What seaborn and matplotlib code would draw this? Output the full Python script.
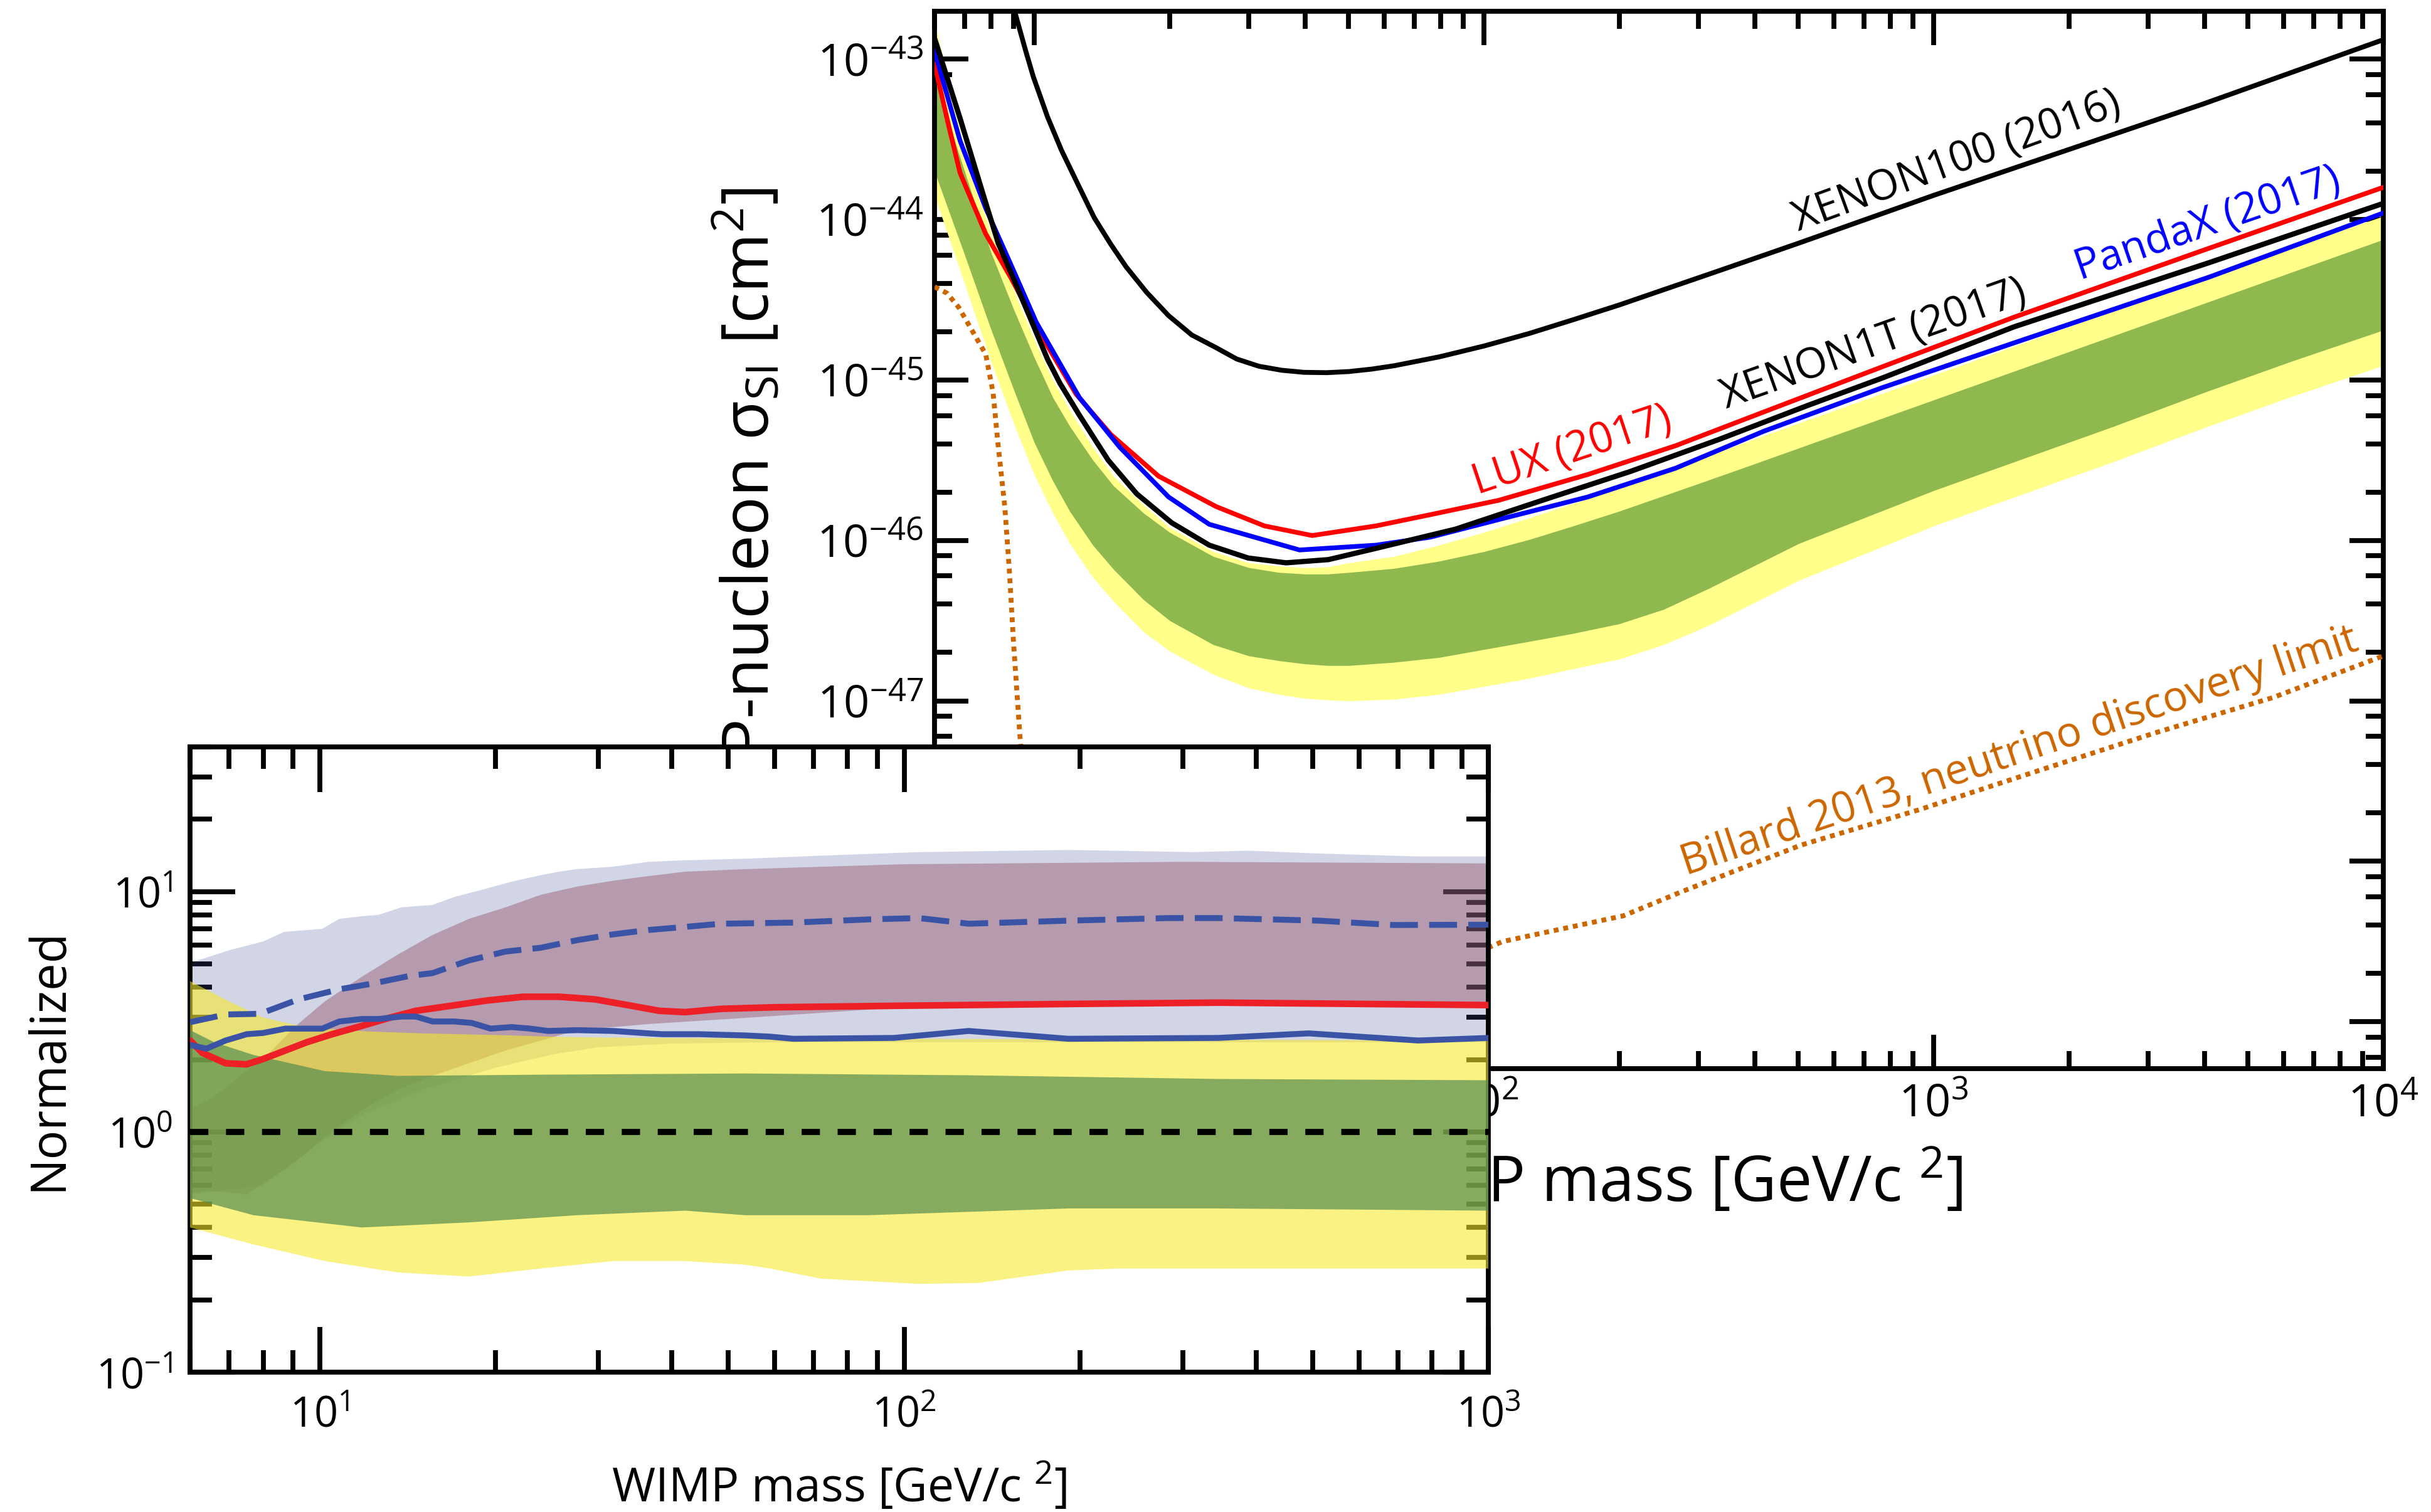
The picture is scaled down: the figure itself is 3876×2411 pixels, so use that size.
import numpy as np
import matplotlib
matplotlib.use("Agg")
import matplotlib.pyplot as plt
import seaborn as sns
from matplotlib.ticker import LogLocator, NullFormatter

# ---------------- main panel: SI WIMP-nucleon limits ----------------
# masses in GeV/c^2, cross sections given as log10(sigma / cm^2)
xe1t_mass = [6.0, 6.84, 7.67, 8.32, 9.06, 9.95, 10.7, 11.4, 12.6, 14.6, 16.9, 20.2, 24.5,
             29.9, 36.3, 45.1, 57.5, 86.5, 135, 212, 334, 524, 766, 1507, 4093, 10000]
xe1t_log = [-42.87, -43.37, -43.83, -44.15, -44.39, -44.66, -44.87, -45.02, -45.22, -45.50,
            -45.71, -45.89, -46.03, -46.11, -46.14, -46.12, -46.05, -45.93, -45.75, -45.57,
            -45.37, -45.16, -44.99, -44.67, -44.27, -43.90]

xe100_mass = [8.51, 9.06, 9.55, 9.95, 10.7, 11.5, 12.6, 13.6, 14.8, 16.0, 17.8, 19.9, 22.4,
              25.4, 28.2, 31.6, 35.5, 39.8, 44.7, 50.1, 56.2, 63.1, 79.4, 100, 126, 158, 200,
              251, 316, 398, 501, 1000, 1585, 2512, 3981, 6310, 10000]
xe100_log = [-42.43, -42.71, -42.94, -43.11, -43.36, -43.57, -43.80, -43.99, -44.155, -44.295,
             -44.456, -44.60, -44.72, -44.80, -44.87, -44.915, -44.94, -44.953, -44.955,
             -44.948, -44.933, -44.912, -44.857, -44.789, -44.711, -44.625, -44.533, -44.438,
             -44.342, -44.245, -44.148, -43.85, -43.66, -43.47, -43.28, -43.08, -42.88]

lux_mass = [6.0, 6.42, 6.84, 7.8, 8.9, 10.3, 12.4, 14.8, 18.9, 25.4, 32.5, 41.5, 57.5, 76,
            108, 170, 267, 419, 766, 1507, 4093, 10000]
lux_log = [-43.03, -43.39, -43.71, -44.09, -44.37, -44.71, -45.09, -45.34, -45.60, -45.79,
           -45.91, -45.97, -45.91, -45.84, -45.75, -45.59, -45.41, -45.20, -44.92, -44.61,
           -44.18, -43.80]

pandax_mass = [6.0, 6.84, 7.8, 8.9, 10.1, 12.6, 15.5, 19.9, 24.5, 38.9, 57.5, 76, 108, 170,
               267, 419, 766, 1507, 4093, 10000]
pandax_log = [-42.95, -43.51, -43.93, -44.29, -44.64, -45.11, -45.42, -45.73, -45.90, -46.06,
              -46.03, -45.98, -45.87, -45.73, -45.55, -45.32, -45.05, -44.77, -44.36, -43.96]

billard_mass = [6.0, 6.4, 6.8, 7.3, 7.8, 8.1, 8.3, 8.6, 8.8, 9.0, 9.3, 9.6, 10, 11, 12, 15, 20,
                30, 50, 70, 100, 110, 204, 275, 506, 925, 1690, 3105, 5675, 10000]
billard_log = [-44.42, -44.46, -44.55, -44.70, -44.84, -45.08, -45.39, -45.79, -46.18, -46.65,
               -47.23, -47.70, -48.10, -48.60, -48.85, -49.05, -49.10, -49.00, -48.85, -48.70,
               -48.55, -48.50, -48.34, -48.19, -47.90, -47.68, -47.44, -47.20, -46.98, -46.72]

# expected sensitivity bands (1 sigma green, 2 sigma yellow)
band_mass = [6, 7, 8, 9, 10, 11, 12, 13.5, 15, 17.5, 20, 25, 30, 35, 40, 45, 50.1, 63.1, 79.4,
             100, 126, 158, 200, 251, 316, 398, 501, 1000, 1585, 2512, 3981, 6310, 10000]
band_2s_hi = [-42.77, -43.55, -44.08, -44.44, -44.75, -45.00, -45.19, -45.42, -45.60, -45.78,
              -45.92, -46.07, -46.14, -46.16, -46.17, -46.165, -46.14, -46.10, -46.03, -45.95,
              -45.86, -45.77, -45.67, -45.57, -45.47, -45.37, -45.27, -44.97, -44.77, -44.57,
              -44.37, -44.17, -43.98]
band_1s_hi = [-43.12, -43.70, -44.20, -44.56, -44.86, -45.11, -45.29, -45.50, -45.66, -45.83,
              -45.95, -46.10, -46.17, -46.20, -46.21, -46.21, -46.20, -46.175, -46.13, -46.07,
              -45.995, -45.91, -45.818, -45.722, -45.624, -45.525, -45.425, -45.125, -44.925,
              -44.725, -44.525, -44.325, -44.125]
band_1s_lo = [-43.70, -44.22, -44.68, -45.06, -45.39, -45.63, -45.82, -46.03, -46.18, -46.37,
              -46.50, -46.65, -46.72, -46.75, -46.77, -46.78, -46.78, -46.76, -46.73, -46.68,
              -46.63, -46.58, -46.52, -46.43, -46.30, -46.16, -46.02, -45.69, -45.49, -45.29,
              -45.08, -44.88, -44.69]
band_2s_lo = [-43.85, -44.40, -44.88, -45.27, -45.59, -45.83, -46.02, -46.23, -46.38, -46.57,
              -46.69, -46.835, -46.92, -46.96, -46.985, -46.995, -47.00, -46.99, -46.96, -46.91,
              -46.86, -46.80, -46.74, -46.65, -46.53, -46.39, -46.25, -45.91, -45.71, -45.51,
              -45.30, -45.10, -44.91]

# curve labels: text, mass, log10 sigma, angle, colour
curve_labels = [
    ("XENON100 (2016)", 1125, -43.64, 20.0, "black"),
    ("XENON1T (2017)", 736, -44.78, 19.5, "black"),
    ("LUX (2017)", 157, -45.445, 18.5, "#ff0000"),
    ("PandaX (2017)", 4065, -44.03, 19.0, "#0000ff"),
    ("Billard 2013, neutrino discovery limit", 1552, -47.32, 18.5, "#cc6600"),
]

# ---------------- inset: limits normalised to the median sensitivity ----------------
lav_hi_mass = [6.0, 7.0, 8.0, 8.7, 10.1, 10.8, 11.8, 12.6, 13.8, 15.6, 17.0, 19.3, 21.3, 23.9,
               25.7, 27.5, 31.8, 36.5, 42.2, 53.4, 71.6, 106, 191, 313, 389, 512, 758, 1000]
lav_hi = [5.05, 5.7, 6.2, 6.8, 7.0, 7.7, 7.9, 8.0, 8.6, 8.8, 9.5, 10.3, 11.0, 11.7, 12.1, 12.4,
          12.7, 13.3, 13.5, 13.7, 14.1, 14.6, 14.9, 14.6, 14.8, 14.4, 14.0, 14.0]
lav_lo_mass = [6.0, 8.0, 10.0, 12.0, 15.0, 20.0, 25.0, 30.0, 40.0, 60.0, 1000]
lav_lo = [0.55, 0.60, 0.90, 1.20, 1.50, 1.85, 2.10, 2.25, 2.33, 2.36, 2.36]

mauve_hi_mass = [6.0, 6.6, 7.5, 8.2, 9.1, 10.2, 11.8, 13.6, 15.6, 18.0, 20.8, 23.9, 27.6, 31.8,
                 36.5, 42.2, 53.4, 100, 300, 1000]
mauve_hi = [1.25, 1.40, 1.80, 2.13, 2.76, 3.49, 4.42, 5.47, 6.6, 7.7, 8.6, 9.7, 10.5, 11.1,
            11.6, 12.1, 12.4, 13.0, 13.3, 13.1]
mauve_lo_mass = [6.0, 6.4, 7.5, 8.0, 8.9, 10.2, 11.8, 13.6, 15.6, 18.0, 20.8, 23.9, 27.6, 36.5,
                 53.4, 100, 300, 1000]
mauve_lo = [0.55, 0.57, 0.55, 0.61, 0.72, 0.95, 1.23, 1.50, 1.71, 1.93, 2.18, 2.40, 2.65, 2.81,
            2.98, 3.30, 3.40, 3.35]

yellow_hi_mass = [6.0, 7.0, 8.0, 9.0, 10.0, 12.0, 15.0, 20.0, 25.0, 30.0, 50.0, 100, 300, 1000]
yellow_hi = [4.24, 3.49, 2.99, 2.80, 2.70, 2.62, 2.57, 2.53, 2.49, 2.47, 2.45, 2.44, 2.42, 2.40]
yellow_lo_mass = [6.0, 7.7, 10.2, 13.6, 18.0, 23.9, 31.8, 42.2, 53.4, 59, 72, 106, 134, 191,
                  233, 421, 1000]
yellow_lo = [0.40, 0.34, 0.29, 0.26, 0.25, 0.27, 0.29, 0.29, 0.28, 0.27, 0.245, 0.233, 0.235,
             0.265, 0.27, 0.27, 0.27]
green_hi_mass = [6.0, 6.6, 7.7, 10.2, 13.6, 24, 53.4, 129, 345, 1000]
green_hi = [2.65, 2.36, 2.09, 1.79, 1.71, 1.73, 1.75, 1.72, 1.66, 1.64]
green_lo_mass = [6.0, 7.7, 11.8, 18.0, 27.6, 42.2, 53.4, 87, 191, 345, 1000]
green_lo = [0.53, 0.45, 0.40, 0.42, 0.45, 0.47, 0.45, 0.45, 0.48, 0.48, 0.47]

red_mass = [6.0, 6.3, 6.9, 7.5, 8.0, 8.9, 9.5, 10.5, 11.8, 13.2, 14.6, 16.8, 19.3, 22.3, 25.7,
            29.6, 34.1, 38.1, 42.2, 48.5, 60, 100, 200, 345, 1000]
red_norm = [2.40, 2.13, 1.93, 1.91, 2.01, 2.22, 2.36, 2.55, 2.76, 2.99, 3.19, 3.35, 3.52, 3.65,
            3.65, 3.56, 3.35, 3.19, 3.15, 3.25, 3.30, 3.35, 3.41, 3.45, 3.37]

blue_mass = [6.0, 6.4, 6.9, 7.5, 8.0, 8.74, 10.1, 10.8, 11.8, 12.6, 13.8, 14.6, 15.6, 17.0,
             18.2, 19.6, 21.3, 22.9, 24.6, 27.6, 31.8, 36.5, 38.5, 44.5, 53.4, 59, 64.6, 96,
             129, 191, 345, 492, 758, 1000]
blue_norm = [2.30, 2.22, 2.40, 2.55, 2.58, 2.69, 2.69, 2.88, 2.95, 2.95, 3.02, 3.02, 2.88, 2.88,
             2.84, 2.69, 2.73, 2.69, 2.63, 2.65, 2.63, 2.57, 2.55, 2.55, 2.52, 2.49, 2.44, 2.46,
             2.63, 2.44, 2.46, 2.57, 2.40, 2.46]

bdash_mass = [6.0, 6.9, 7.9, 9.2, 10.8, 12.3, 14.2, 15.6, 18.0, 20.8, 23.9, 27.6, 31.8, 36.5,
              42.2, 48.5, 64.6, 87, 106, 129, 191, 283, 345, 512, 687, 1000]
bdash_norm = [2.86, 3.08, 3.10, 3.56, 3.92, 4.14, 4.45, 4.58, 5.17, 5.63, 5.84, 6.28, 6.64, 6.92,
              7.13, 7.35, 7.43, 7.66, 7.76, 7.35, 7.57, 7.76, 7.76, 7.57, 7.26, 7.28]

# ---------------- style ----------------
sns.set_theme(style="ticks")
FONT = ["Open Sans", "DejaVu Sans"]
plt.rcParams["font.family"] = FONT
plt.rcParams["mathtext.fontset"] = "custom"
plt.rcParams["mathtext.rm"] = "Open Sans"
plt.rcParams["mathtext.it"] = "Open Sans:italic"
plt.rcParams["mathtext.bf"] = "Open Sans:bold"
plt.rcParams["axes.unicode_minus"] = True


def sig(vals):
    return 10.0 ** np.asarray(vals, dtype=float)


def style_axes(ax, major, minor, lw, size, padx, pady, ysubs):
    for s in ax.spines.values():
        s.set_linewidth(lw)
        s.set_color("black")
    ax.xaxis.set_major_locator(LogLocator(base=10, numticks=20))
    ax.xaxis.set_minor_locator(LogLocator(base=10, subs=np.arange(2, 10), numticks=50))
    ax.yaxis.set_major_locator(LogLocator(base=10, numticks=20))
    ax.yaxis.set_minor_locator(LogLocator(base=10, subs=ysubs, numticks=50))
    ax.xaxis.set_minor_formatter(NullFormatter())
    ax.yaxis.set_minor_formatter(NullFormatter())
    ax.tick_params(which="both", direction="in", top=True, right=True, width=lw,
                   color="black", labelcolor="black", labelsize=size)
    ax.tick_params(which="major", length=major)
    ax.tick_params(which="minor", length=minor)
    ax.tick_params(axis="x", which="both", pad=padx)
    ax.tick_params(axis="y", which="both", pad=pady)
    ax.xaxis.get_offset_text().set_visible(False)
    ax.yaxis.get_offset_text().set_visible(False)


def curve(axis, x, y, color, width, style="-", z=4):
    sns.lineplot(x=x, y=y, ax=axis, color=color, estimator=None, sort=False, zorder=z)
    line = axis.get_lines()[-1]
    line.set_linewidth(width)
    line.set_linestyle(style)
    line.set_solid_joinstyle("round")
    return line


fig = plt.figure(figsize=(19.38, 12.055), dpi=200)
fig.patch.set_facecolor("white")

# ---------------- main axes ----------------
ax = fig.add_axes([0.3844, 0.2932, 0.5960, 0.6993])
ax.set_facecolor("white")
ax.set_xscale("log")
ax.set_yscale("log")

ax.fill_between(band_mass, sig(band_2s_lo), sig(band_2s_hi), color="#ffff8a", lw=0, zorder=1)
ax.fill_between(band_mass, sig(band_1s_lo), sig(band_1s_hi), color="#8fb94f", lw=0, zorder=2)

curve(ax, billard_mass, sig(billard_log), "#cc6600", 2.8, (0, (1, 1.0)), z=3)
curve(ax, xe100_mass, sig(xe100_log), "black", 2.8, z=4)
curve(ax, lux_mass, sig(lux_log), "#ff0000", 2.7, z=4)
curve(ax, pandax_mass, sig(pandax_log), "#0000ff", 2.7, z=5)
curve(ax, xe1t_mass, sig(xe1t_log), "black", 3.0, z=6)

for text, m, ls, rot, col in curve_labels:
    ax.text(m, 10.0 ** ls, text, rotation=rot, rotation_mode="anchor", ha="center",
            va="center", fontsize=24, color=col, zorder=7)

ax.set_xlim(6, 1e4)
ax.set_ylim(5.1e-50, 1.98e-43)
style_axes(ax, major=19.5, minor=10, lw=2.8, size=26, padx=8, pady=6.5, ysubs=(2, 4, 6, 8))
ax.set_xlabel("WIMP mass [GeV/c $^{2}$]", fontsize=36, labelpad=12, color="black")
ax.set_ylabel("WIMP-nucleon σ$_{\\mathrm{SI}}$ [cm$^{2}$]", fontsize=37, labelpad=18,
              color="black")

# ---------------- inset axes ----------------
ins = fig.add_axes([0.0782, 0.0925, 0.5341, 0.4135])
ins.set_facecolor("white")
ins.set_xscale("log")
ins.set_yscale("log")


def band(axis, m_hi, v_hi, m_lo, v_lo, **kw):
    xs = np.r_[np.asarray(m_hi, float), np.asarray(m_lo, float)[::-1]]
    ys = np.r_[np.asarray(v_hi, float), np.asarray(v_lo, float)[::-1]]
    axis.fill(xs, ys, lw=0, **kw)


band(ins, lav_hi_mass, lav_hi, lav_lo_mass, lav_lo, color="#3c4a96", alpha=0.23, zorder=1)
band(ins, mauve_hi_mass, mauve_hi, mauve_lo_mass, mauve_lo, color="#945668", alpha=0.45, zorder=2)
band(ins, yellow_hi_mass, yellow_hi, yellow_lo_mass, yellow_lo, color="#f8ea28", alpha=0.58, zorder=3)
band(ins, green_hi_mass, green_hi, green_lo_mass, green_lo, color="#558e50", alpha=0.70, zorder=4)

ins.axhline(1.0, color="black", lw=3.5, linestyle=(0, (3.0, 2.9)), zorder=5)
curve(ins, bdash_mass, bdash_norm, "#3a53a4", 3.4, (0, (4.7, 1.9)), z=6)
curve(ins, red_mass, red_norm, "#ee2027", 3.8, z=7)
curve(ins, blue_mass, blue_norm, "#3a53a4", 3.4, z=8)

ins.set_xlim(6, 1000)
ins.set_ylim(0.1, 40)
style_axes(ins, major=26, minor=12.5, lw=2.8, size=24, padx=13, pady=10,
           ysubs=np.arange(2, 10))
ins.set_xlabel("WIMP mass [GeV/c $^{2}$]", fontsize=27, labelpad=14, color="black")
ins.set_ylabel("Normalized", fontsize=28, labelpad=13, color="black")

fig.savefig("out.png", dpi=200, facecolor="white")
